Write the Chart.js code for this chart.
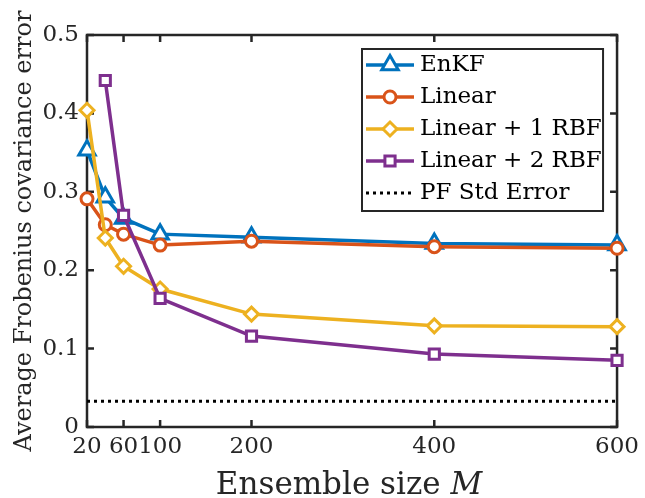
<!DOCTYPE html>
<html><head><meta charset="utf-8">
<script src="https://cdn.jsdelivr.net/npm/chart.js@4.4.0/dist/chart.umd.min.js"></script>
<style>html,body{margin:0;padding:0;background:#fff;}#wrap{width:645px;height:498px;position:relative;}</style>
</head><body><div id="wrap"><canvas id="c" width="645" height="498"></canvas></div>
<script>
// ---- data ----
const ensembleSizes = [20, 40, 60, 100, 200, 400, 600];
const enkf       = [0.353, 0.293, 0.266, 0.246, 0.242, 0.234, 0.232];
const linear     = [0.291, 0.258, 0.246, 0.232, 0.237, 0.230, 0.228];
const linear1rbf = [0.404, 0.241, 0.205, 0.176, 0.144, 0.129, 0.128];
const linear2rbf = [null, 0.442, 0.270, 0.164, 0.116, 0.093, 0.085];
const pfStdError = 0.033;
const xTicks = [20, 60, 100, 200, 400, 600];
const yTicks = [0, 0.1, 0.2, 0.3, 0.4, 0.5];
const seriesNames = ['EnKF', 'Linear', 'Linear + 1 RBF', 'Linear + 2 RBF', 'PF Std Error'];

// ---- styles ----
const colors = ['#0072BD', '#D95319', '#EDB120', '#7E2F8E', '#000000'];
const markerStyles = ['triangle', 'circle', 'rectRot', 'rect', false];
const markerRadii = [9.5, 6, 7, 7.2, 0];
const LW = 3.5;
const AX = '#262626';
const FONT = '"DejaVu Serif", "Liberation Serif", serif';

function pts(arr) {
  return ensembleSizes.map((x, i) => ({x: x, y: arr[i]})).filter(p => p.y !== null);
}

function drawMarker(g, style, r, x, y, color) {
  if (!style) return;
  g.save();
  g.beginPath();
  if (style === 'circle') {
    g.arc(x, y, r, 0, Math.PI * 2);
  } else if (style === 'triangle') {
    let rad = 0;
    g.moveTo(x + Math.sin(rad) * r, y - Math.cos(rad) * r);
    rad += 2 * Math.PI / 3;
    g.lineTo(x + Math.sin(rad) * r, y - Math.cos(rad) * r);
    rad += 2 * Math.PI / 3;
    g.lineTo(x + Math.sin(rad) * r, y - Math.cos(rad) * r);
  } else if (style === 'rectRot') {
    g.moveTo(x - r, y); g.lineTo(x, y - r); g.lineTo(x + r, y); g.lineTo(x, y + r);
  } else if (style === 'rect') {
    const s = Math.SQRT1_2 * r;
    g.rect(x - s, y - s, 2 * s, 2 * s);
  }
  g.closePath();
  g.fillStyle = '#fff';
  g.fill();
  g.lineWidth = 3;
  g.strokeStyle = color;
  g.stroke();
  g.restore();
}

function makeSample(i) {
  const c = document.createElement('canvas');
  c.width = 48; c.height = 26;
  const g = c.getContext('2d');
  g.strokeStyle = colors[i];
  g.lineWidth = i === 4 ? 3 : LW;
  if (i === 4) g.setLineDash([3, 4]);
  g.beginPath(); g.moveTo(0, 13); g.lineTo(48, 13); g.stroke();
  g.setLineDash([]);
  drawMarker(g, markerStyles[i], markerRadii[i], 24, 13, colors[i]);
  return c;
}
const samples = seriesNames.map((n, i) => makeSample(i));

const seriesData = [enkf, linear, linear1rbf, linear2rbf];
const datasets = seriesData.map((arr, i) => ({
  label: seriesNames[i],
  data: pts(arr),
  borderColor: colors[i],
  backgroundColor: '#fff',
  borderWidth: LW,
  pointStyle: markerStyles[i],
  pointRadius: markerRadii[i],
  pointBorderWidth: 3,
  pointBackgroundColor: '#fff',
  pointBorderColor: colors[i],
  tension: 0,
  clip: false,
  order: 10 - i
}));
datasets.push({
  label: seriesNames[4],
  data: [{x: ensembleSizes[0], y: pfStdError}, {x: ensembleSizes[ensembleSizes.length - 1], y: pfStdError}],
  borderColor: colors[4],
  borderWidth: 3,
  borderDash: [3, 4],
  pointRadius: 0,
  tension: 0,
  clip: false,
  order: 1
});

// Axis box with inward ticks (MATLAB style)
const legendBox = {l: 275, t: 14, r: 14, h: 162};
const boxPlugin = {
  id: 'axisBox',
  beforeDraw(chart) {
    const {ctx, chartArea: a, scales} = chart;
    ctx.save();
    ctx.strokeStyle = AX;
    ctx.lineWidth = 2.5;
    const tl = 7;
    ctx.beginPath();
    scales.x.ticks.forEach(t => {
      const px = scales.x.getPixelForValue(t.value);
      ctx.moveTo(px, a.bottom); ctx.lineTo(px, a.bottom - tl);
      ctx.moveTo(px, a.top); ctx.lineTo(px, a.top + tl);
    });
    scales.y.ticks.forEach(t => {
      const py = scales.y.getPixelForValue(t.value);
      ctx.moveTo(a.left, py); ctx.lineTo(a.left + tl, py);
      ctx.moveTo(a.right, py); ctx.lineTo(a.right - tl, py);
    });
    ctx.stroke();
    ctx.lineJoin = 'miter';
    ctx.strokeRect(a.left, a.top, a.right - a.left, a.bottom - a.top);
    // legend frame
    const x1 = a.left + legendBox.l, y1 = a.top + legendBox.t;
    const x2 = a.right - legendBox.r;
    ctx.fillStyle = '#fff';
    ctx.fillRect(x1, y1, x2 - x1, legendBox.h);
    ctx.lineWidth = 2;
    ctx.strokeRect(x1, y1, x2 - x1, legendBox.h);
    ctx.restore();
  },
  afterDraw(chart) {
    const {ctx, chartArea: a} = chart;
    // x-axis title with italic M
    ctx.save();
    ctx.fillStyle = AX;
    ctx.textBaseline = 'alphabetic';
    const t1 = 'Ensemble size ', t2 = 'M';
    ctx.font = '31px ' + FONT;
    const w1 = ctx.measureText(t1).width;
    ctx.font = 'italic 31px ' + FONT;
    const w2 = ctx.measureText(t2).width;
    const cx = (a.left + a.right) / 2 - 3;
    const x0 = cx - (w1 + w2) / 2;
    const by = chart.height - 4;
    ctx.font = '31px ' + FONT;
    ctx.fillText(t1, x0, by);
    ctx.font = 'italic 31px ' + FONT;
    ctx.fillText(t2, x0 + w1, by);
    ctx.restore();
  }
};

// Legend placement inside plot
const legendPlugin = {
  id: 'legendPlace',
  afterLayout(chart) {
    const lg = chart.legend, a = chart.chartArea;
    const left = a.left + legendBox.l + 0.5;
    const top = a.top + legendBox.t - 4.5;
    lg.left = left; lg.top = top;
    lg.right = left + lg.width; lg.bottom = a.bottom;
  }
};

new Chart(document.getElementById('c'), {
  type: 'line',
  data: {datasets: datasets},
  options: {
    responsive: false,
    animation: false,
    layout: {padding: {top: 35, right: 23, left: 0, bottom: 0}},
    plugins: {
      tooltip: {enabled: false},
      legend: {
        position: 'chartArea',
        align: 'start',
        labels: {
          usePointStyle: true,
          pointStyleWidth: 37,
          padding: 9,
          color: '#000',
          font: {family: FONT, size: 23},
          generateLabels: () => seriesNames.map((n, i) => ({
            text: n, pointStyle: samples[i], fillStyle: '#fff', strokeStyle: colors[i],
            lineWidth: 0, hidden: false, datasetIndex: i, fontColor: '#000'
          }))
        }
      }
    },
    scales: {
      x: {
        type: 'linear', min: 20, max: 600,
        grid: {display: false, drawTicks: false},
        border: {display: false},
        afterBuildTicks: s => { s.ticks = xTicks.map(v => ({value: v})); },
        afterFit: s => { s.height = 71; },
        ticks: {
          autoSkip: false, maxRotation: 0, padding: 6, color: AX,
          font: {family: FONT, size: 23},
          callback: v => String(v)
        }
      },
      y: {
        type: 'linear', min: 0, max: 0.5,
        grid: {display: false, drawTicks: false},
        border: {display: false},
        afterBuildTicks: s => { s.ticks = yTicks.map(v => ({value: v})); },
        afterFit: s => { s.width = 87; },
        ticks: {
          autoSkip: false, padding: 8, color: AX,
          font: {family: FONT, size: 23},
          callback: v => v === 0 ? '0' : v.toFixed(1)
        },
        title: {
          display: true, text: 'Average Frobenius covariance error',
          color: AX, font: {family: FONT, size: 24}, padding: {top: 10, bottom: 0}
        }
      }
    }
  },
  plugins: [boxPlugin, legendPlugin]
});
</script></body></html>
